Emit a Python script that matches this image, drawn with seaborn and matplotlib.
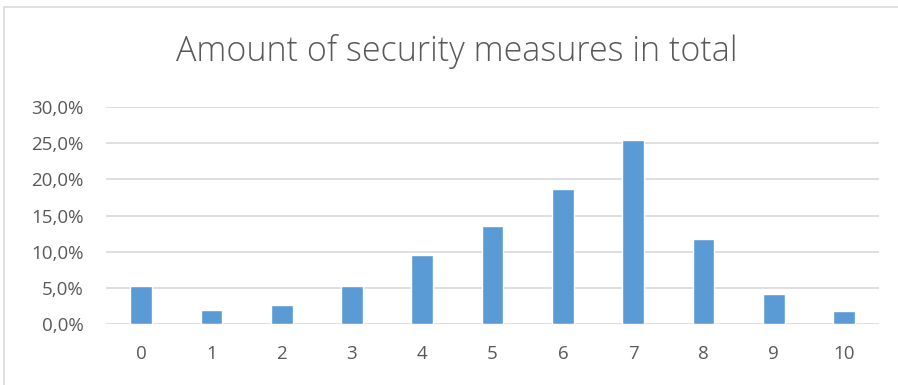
import pandas as pd
import matplotlib.pyplot as plt
import seaborn as sns
from matplotlib.patches import Rectangle
from matplotlib.ticker import FuncFormatter

# data
measures = ['0', '1', '2', '3', '4', '5', '6', '7', '8', '9', '10']
share = [0.052, 0.019, 0.026, 0.053, 0.095, 0.135, 0.186, 0.254, 0.118, 0.041, 0.018]
y_ticks = [0.0, 0.05, 0.10, 0.15, 0.20, 0.25, 0.30]

df = pd.DataFrame({'measures': measures, 'share': share})

sns.set_theme(style='white')
plt.rcParams['font.family'] = ['Open Sans', 'DejaVu Sans']

text_col = '#595959'
grid_col = '#D9D9D9'

fig = plt.figure(figsize=(8.98, 3.85), dpi=100)
ax = fig.add_axes([0.118, 0.1584, 0.861, 0.5636])

ax.set_axisbelow(True)
for t in y_ticks:
    ax.axhline(t, color=grid_col, lw=1.2, zorder=0)

sns.barplot(data=df, x='measures', y='share', color='#5B9BD5', width=0.31,
            saturation=1, ax=ax, zorder=2)

ax.set_ylim(0, 0.30)
ax.set_xlim(-0.5, 10.5)
ax.set_yticks(y_ticks)
ax.yaxis.set_major_formatter(FuncFormatter(lambda v, p: f'{v*100:.1f}%'.replace('.', ',')))
ax.tick_params(axis='both', length=0, labelsize=13.5, colors=text_col)
ax.tick_params(axis='x', pad=15)
ax.tick_params(axis='y', pad=16)
ax.set_xlabel('')
ax.set_ylabel('')
for s in ax.spines.values():
    s.set_visible(False)

fig.text(0.509, 0.865, 'Amount of security measures in total', ha='center', va='center',
         fontsize=24.5, color=text_col, fontweight='light')

fig.patches.append(Rectangle((4 / 898, -0.1), 1.2, 1 - 7 / 385 + 0.1, transform=fig.transFigure,
                             fill=False, edgecolor=grid_col, lw=1.2))

fig.savefig('out.png', dpi=100)
